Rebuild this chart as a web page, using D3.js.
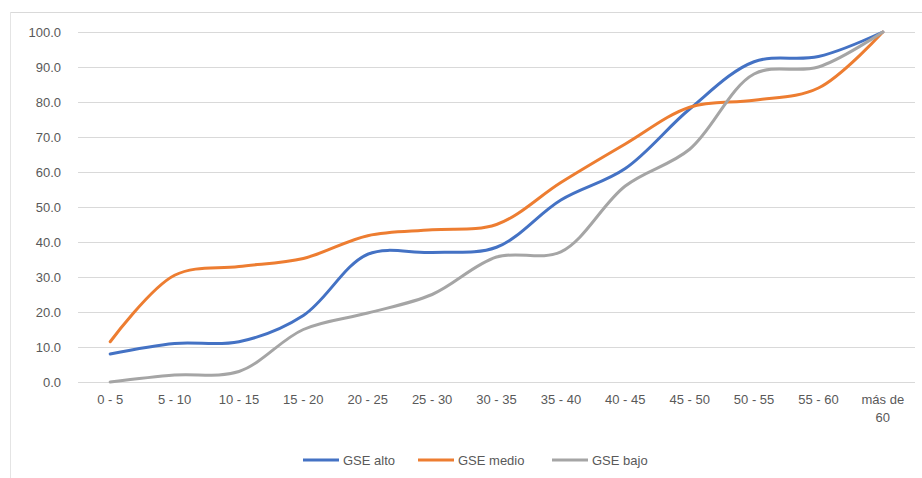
<!DOCTYPE html>
<html>
<head>
<meta charset="utf-8">
<script src="https://cdn.jsdelivr.net/npm/d3@7"></script>
<style>
  body { margin: 0; background: #fff; }
  text { font-family: "Liberation Sans", Arial, sans-serif; fill: #595959; }
</style>
</head>
<body>
<div id="chart"></div>
<script>
// categories and values
var categories = ["0 - 5", "5 - 10", "10 - 15", "15 - 20", "20 - 25", "25 - 30", "30 - 35",
                  "35 - 40", "40 - 45", "45 - 50", "50 - 55", "55 - 60", "más de 60"];
var gseAlto  = [8, 11, 11.5, 19, 36.5, 37, 38.5, 52, 61, 78, 91.5, 93, 100];
var gseMedio = [11.5, 30.5, 33, 35.3, 41.8, 43.5, 45, 57, 68, 78.5, 80.5, 84, 100];
var gseBajo  = [0, 2, 3, 15, 19.7, 25, 35.7, 37.2, 56, 66.5, 88, 90, 100];
var yTicks = [0, 10, 20, 30, 40, 50, 60, 70, 80, 90, 100];

var series = [
  {name: "GSE alto", values: gseAlto, color: "#4472C4"},
  {name: "GSE medio", values: gseMedio, color: "#ED7D31"},
  {name: "GSE bajo", values: gseBajo, color: "#A5A5A5"}
];

var W = 922, H = 478;
var margin = {top: 32, right: 7, bottom: 96, left: 78};
var width = W - margin.left - margin.right,
    height = H - margin.top - margin.bottom;

var svg = d3.select("#chart").append("svg")
    .attr("width", W)
    .attr("height", H);

// chart frame (top and left edges visible)
svg.append("line").attr("x1", 10).attr("x2", W).attr("y1", 12.5).attr("y2", 12.5)
    .style("stroke", "#d9d9d9");
svg.append("line").attr("x1", 10.5).attr("x2", 10.5).attr("y1", 12).attr("y2", H)
    .style("stroke", "#e4e4e4");

var g = svg.append("g")
    .attr("transform", "translate(" + margin.left + "," + margin.top + ")");

var x = d3.scaleBand()
    .domain(categories)
    .range([0, width]);

var y = d3.scaleLinear()
    .domain([0, 100])
    .range([height, 0]);

// grid lines
g.append("g")
    .selectAll("line")
    .data(yTicks)
    .join("line")
    .attr("x1", 0).attr("x2", width)
    .attr("y1", d => Math.round(y(d)) + 0.5)
    .attr("y2", d => Math.round(y(d)) + 0.5)
    .style("stroke", "#d9d9d9")
    .style("stroke-width", 1);

// Y axis
var yAxis = g.append("g")
    .call(d3.axisLeft(y).tickValues(yTicks).tickFormat(d3.format(".1f")).tickSize(0).tickPadding(17));
yAxis.select(".domain").remove();
yAxis.selectAll("text").style("font-size", "13px").style("fill", "#595959");

// X axis
var xAxis = g.append("g")
    .attr("transform", "translate(0," + height + ")")
    .call(d3.axisBottom(x).tickSize(0).tickPadding(13));
xAxis.select(".domain").remove();
xAxis.selectAll("text").style("font-size", "13px").style("fill", "#595959")
    .each(function(d) {
      if (d === "más de 60") {
        var t = d3.select(this);
        t.text(null);
        t.append("tspan").attr("x", 0).attr("dy", "0.71em").text("más de");
        t.append("tspan").attr("x", 0).attr("dy", "1.35em").text("60");
        t.attr("dy", null);
      }
    });

// lines
var line = d3.line()
    .x((d, i) => x(categories[i]) + x.bandwidth() / 2)
    .y(d => y(d))
    .curve(d3.curveCatmullRom);

g.selectAll(".series")
    .data(series)
    .join("path")
    .attr("class", "series")
    .attr("d", d => line(d.values))
    .style("fill", "none")
    .style("stroke", d => d.color)
    .style("stroke-width", "3px")
    .style("stroke-linecap", "round");

// legend
var legendX = [303, 418, 552];
var legend = svg.append("g").attr("transform", "translate(0,460)");
var items = legend.selectAll("g")
    .data(series)
    .join("g")
    .attr("transform", (d, i) => "translate(" + legendX[i] + ",0)");
items.append("line")
    .attr("x1", 0).attr("x2", 36)
    .attr("y1", 0).attr("y2", 0)
    .style("stroke", d => d.color)
    .style("stroke-width", "3px");
items.append("text")
    .attr("x", 40)
    .attr("dy", "0.35em")
    .style("font-size", "13px")
    .text(d => d.name);
</script>
</body>
</html>
